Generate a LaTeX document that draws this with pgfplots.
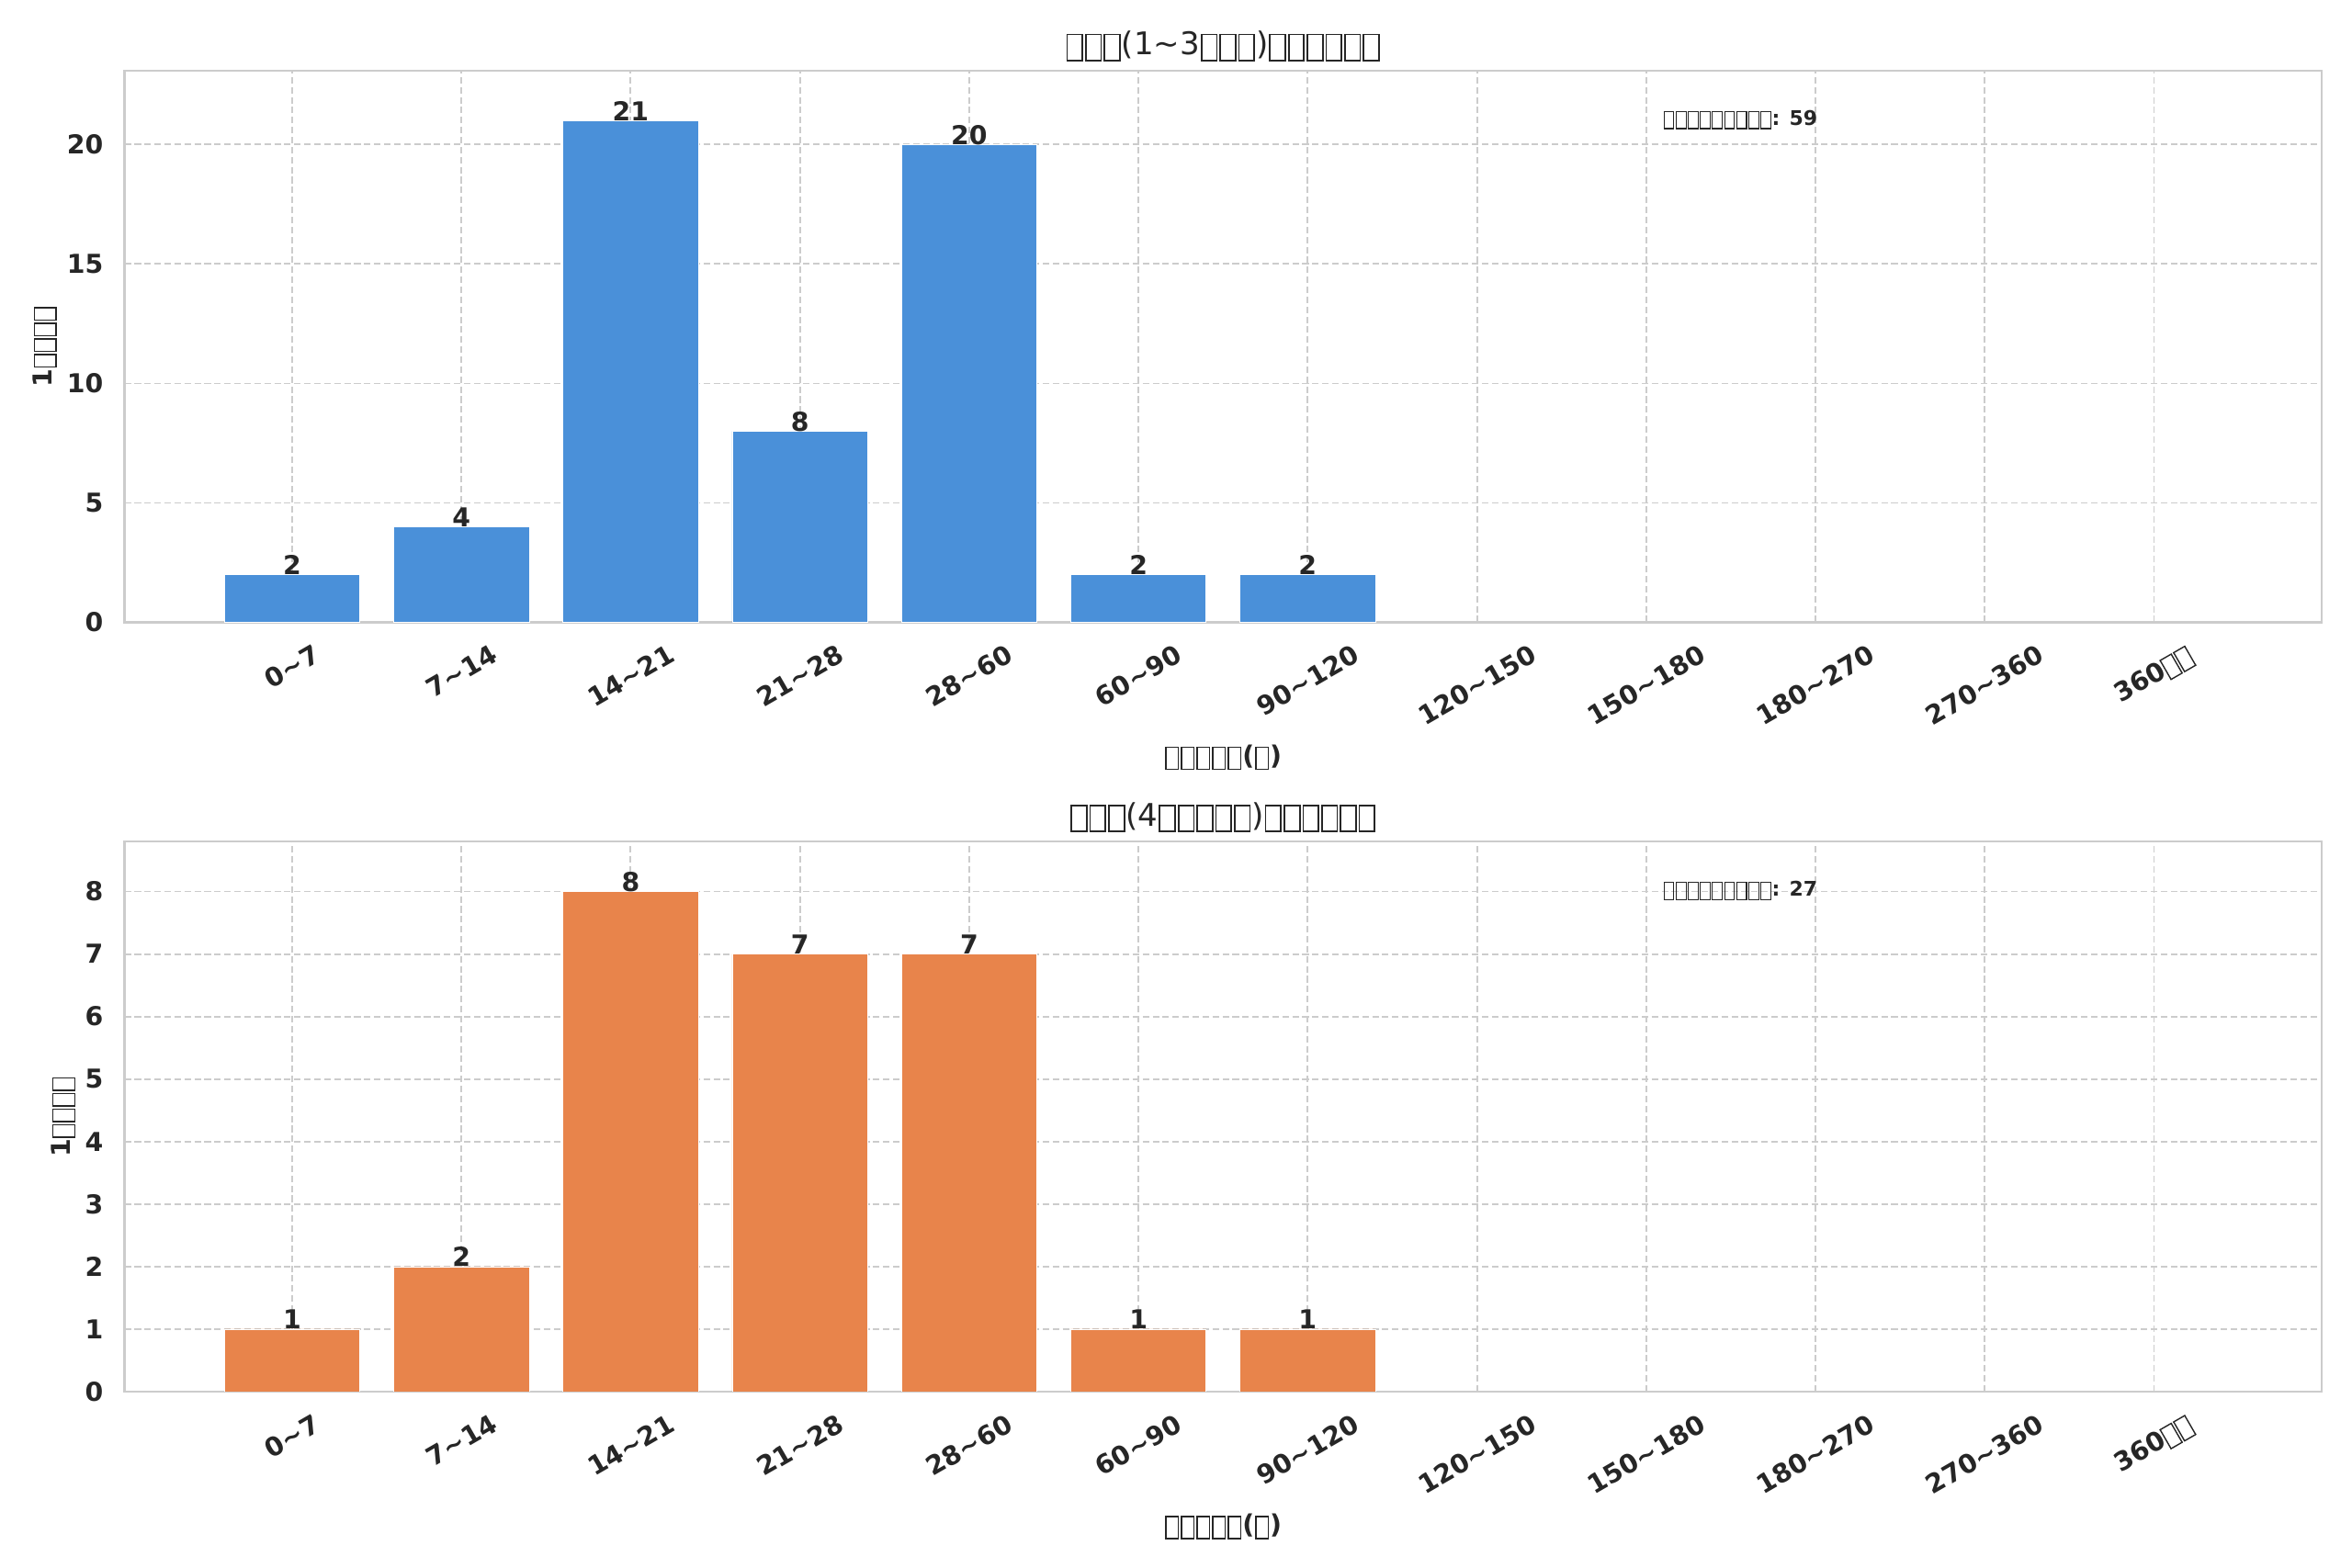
\documentclass[border=0pt]{standalone}
\usepackage{fontspec}
\setmainfont{DejaVu Sans}
\usepackage{graphicx}
\usepackage{pgfplots}
\pgfplotsset{compat=1.18}
\definecolor{barblue}{HTML}{4A90D9}
\definecolor{barorange}{HTML}{E8844B}
\definecolor{txt}{HTML}{262626}
\definecolor{spine}{HTML}{CCCCCC}
\newcommand\tofu{\kern0.03em\raisebox{-0.15em}{\setlength\fboxsep{0pt}\setlength\fboxrule{0.05em}\fbox{\rule{0.44em}{0pt}\rule{0pt}{0.79em}}}\kern0.03em}
\newcommand\tk{\fontsize{12}{14}\selectfont\bfseries}
\pgfplotsset{
  every axis title shift=0pt,
  mystyle/.style={
    scale only axis, width=1012.6pt,
    xmin=-0.99, xmax=11.99, ymin=0,
    axis line style={spine, line width=1pt},
    grid=major,
    major grid style={spine, line width=0.8pt, dash pattern=on 3pt off 1.6pt},
    major tick length=0pt,
    xtick={0,...,11},
    xticklabels={\rotatebox{30}{0\textasciitilde 7},\rotatebox{30}{7\textasciitilde 14},\rotatebox{30}{14\textasciitilde 21},\rotatebox{30}{21\textasciitilde 28},\rotatebox{30}{28\textasciitilde 60},\rotatebox{30}{60\textasciitilde 90},\rotatebox{30}{90\textasciitilde 120},\rotatebox{30}{120\textasciitilde 150},\rotatebox{30}{150\textasciitilde 180},\rotatebox{30}{180\textasciitilde 270},\rotatebox{30}{270\textasciitilde 360},\rotatebox{30}{360\tofu\tofu}},
    /pgf/number format/assume math mode=true,
    tick label style={font=\tk, text=txt},
    xticklabel style={anchor=north, inner sep=0pt, yshift=-9.7pt},
    yticklabel style={anchor=east, inner sep=0pt, xshift=-9.6pt},
    ybar, bar width=0.8,
    nodes near coords,
    every node near coord/.append style={font=\tk, text=txt, anchor=base, inner sep=0pt},
    title style={at={(axis description cs:0.5,1)}, anchor=base, yshift=7.1pt, font=\fontsize{14.4}{17}\selectfont, text=txt, inner sep=0pt},
    xlabel style={anchor=north, inner sep=0pt, font=\tk, text=txt},
    ylabel style={anchor=center, inner sep=0pt, font=\tk, text=txt},
    xlabel={\tofu\tofu\tofu\tofu\tofu(\tofu)},
    ylabel={1\tofu\tofu\tofu\tofu},
  }
}
\begin{document}
\begin{tikzpicture}
\useasboundingbox (0,0) rectangle (1084pt,722.8pt);
\begin{axis}[mystyle, at={(57.4pt,435.9pt)}, anchor=south west, height=254.4pt,
  ymax=23.1, ytick={0,5,10,15,20},
  title={\tofu\tofu\tofu(1\textasciitilde 3\tofu\tofu\tofu)\tofu\tofu\tofu\tofu\tofu\tofu},
  xlabel style={at={(axis description cs:0.5,-0.2213)}},
  ylabel style={at={(axis description cs:-0.0363,0.5)}},
]
\addplot[fill=barblue, draw=white, line width=0.3pt] coordinates {(0,2) (1,4) (2,21) (3,8) (4,20) (5,2) (6,2)};
\node[anchor=west, inner sep=0pt, font=\fontsize{9.3}{11}\selectfont\bfseries, text=txt] at (rel axis cs:0.7,0.911) {\tofu\tofu\tofu\tofu\tofu\tofu\tofu\tofu\tofu: 59};
\end{axis}
\begin{axis}[mystyle, at={(57.4pt,81.3pt)}, anchor=south west, height=253.6pt,
  ymax=8.8, ytick={0,1,2,3,4,5,6,7,8},
  title={\tofu\tofu\tofu(4\tofu\tofu\tofu\tofu\tofu)\tofu\tofu\tofu\tofu\tofu\tofu},
  xlabel style={at={(axis description cs:0.5,-0.222)}},
  ylabel style={at={(axis description cs:-0.0279,0.5)}},
]
\addplot[fill=barorange, draw=white, line width=0.3pt] coordinates {(0,1) (1,2) (2,8) (3,7) (4,7) (5,1) (6,1)};
\node[anchor=west, inner sep=0pt, font=\fontsize{9.3}{11}\selectfont\bfseries, text=txt] at (rel axis cs:0.7,0.911) {\tofu\tofu\tofu\tofu\tofu\tofu\tofu\tofu\tofu: 27};
\end{axis}
\end{tikzpicture}
\end{document}
